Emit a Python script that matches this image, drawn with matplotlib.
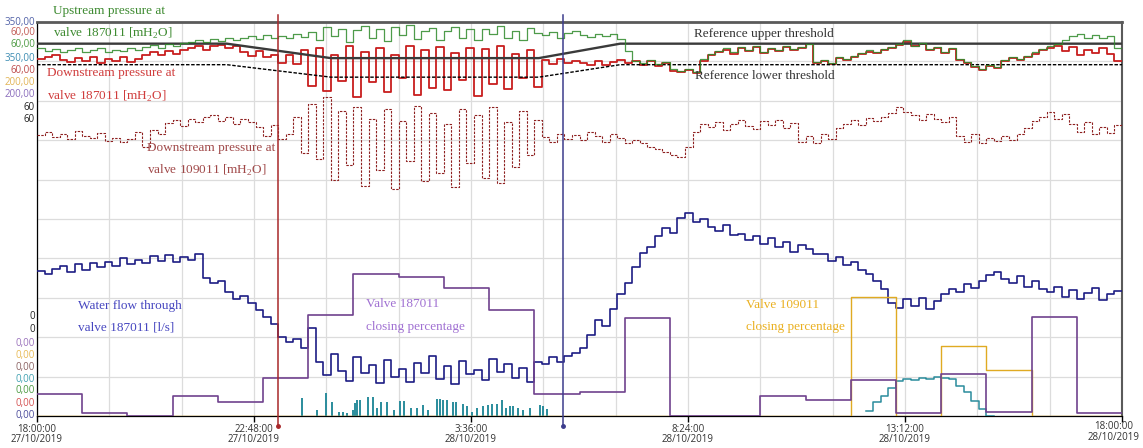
import numpy as np
import matplotlib
matplotlib.use("Agg")
import matplotlib.pyplot as plt
import matplotlib.transforms as mtransforms

# ---------------- data (time in hours after 18:00 27/10/2019) ----------------
STEP_H = 1 / 6  # 10-minute samples

upstream_187011 = [  # mH2O
    56.0, 55.6, 55.9, 55.4, 55.8, 56.1, 55.5, 55.7, 56.0, 55.4, 55.8, 55.6, 56.0, 55.7,
    56.2, 56.5, 56.1, 56.6, 56.3, 56.8,
    57.0, 57.3, 56.9, 57.4, 57.1, 57.5, 57.2,
    57.6, 57.9, 57.4, 58.0, 57.6, 57.8, 57.5, 58.1, 57.7,
    58.5, 57.2, 59.3, 57.8, 59.0, 57.0, 58.8, 59.4, 57.5, 58.9, 57.1, 59.2, 58.0, 59.5, 57.4,
    58.7, 59.1, 57.3, 58.6, 59.3, 57.6, 58.9, 57.2, 59.0, 58.2, 59.4, 57.5, 58.6, 57.3, 59.1, 58.4,
    58.0, 58.5, 57.6, 58.3, 58.7, 58.0, 57.7, 58.2, 57.9, 58.1,
    57.4, 55.6, 54.0,
    53.8, 54.2, 53.6, 53.9, 52.8, 52.5, 52.9, 52.4, 54.4, 55.2,
    55.6, 56.0, 55.4, 56.2, 55.8, 56.3, 55.5, 56.0, 55.7, 56.4,
    55.9, 56.2, 56.7, 53.9, 54.2, 53.8, 54.6, 54.4, 54.8, 55.3,
    55.7, 55.4, 55.9, 56.2, 56.6, 57.2, 56.4, 56.8, 55.9, 56.2,
    55.5, 56.0, 54.4, 53.9, 53.3, 52.8, 53.5, 53.1, 54.2, 54.6,
    54.3, 54.8, 55.4, 55.9, 56.3, 56.7,
    57.3, 57.8, 58.2, 57.6, 58.0, 57.5, 57.9, 56.0,
]

downstream_187011 = [  # mH2O
    54.3, 54.6, 55.0,
    54.2, 53.9, 54.5, 54.0, 54.6, 53.8, 54.3, 54.1, 54.6, 53.9, 54.4,
    54.9, 55.4, 55.0, 55.6, 55.2, 55.7,
    56.0, 56.4, 55.8, 56.3, 56.5, 56.1, 56.4,
    55.5, 54.8, 55.6, 54.6,
    55.0, 53.8, 54.9, 53.6,
    55.8, 50.2, 56.0, 49.5, 54.9, 51.0, 56.3, 48.6, 55.5, 50.8, 56.1, 49.3, 55.0, 51.5, 56.4, 48.9,
    55.7, 50.0, 56.2, 49.6, 55.3, 51.2, 56.0, 48.8, 55.9, 50.5, 56.3, 49.8, 55.1, 51.4, 55.8, 50.1,
    54.2, 53.6, 54.4, 53.8, 54.0, 53.8, 53.4, 54.0, 53.5, 53.9, 54.2, 53.7, 54.0,
    53.4, 54.0, 53.3, 53.7, 52.6, 52.4, 52.7, 52.3, 54.1, 55.0,
    55.5, 55.8, 55.2, 56.1, 55.6, 56.2, 55.3, 55.9, 55.6, 56.2,
    55.7, 56.1, 56.6, 53.7, 54.0, 53.6, 54.5, 54.2, 54.7, 55.2,
    55.5, 55.3, 55.8, 56.0, 56.5, 57.0, 56.3, 56.6, 55.8, 56.0,
    55.3, 55.9, 54.2, 53.7, 53.2, 52.7, 53.3, 53.0, 54.0, 54.5,
    54.2, 54.6, 55.2, 55.8, 56.1, 56.4,
    55.6, 56.2, 55.0, 55.8, 55.3, 56.0, 55.2, 54.1,
]

downstream_109011 = [  # mH2O
    42.8, 43.3, 42.5, 43.0, 42.2, 43.4, 42.7, 42.4, 43.1,
    41.9, 42.4, 41.7, 42.2,
    43.2, 40.9, 43.6, 42.9,
    44.6, 45.0, 44.2, 45.3, 44.8, 45.5,
    45.8, 44.9, 45.6, 44.5, 45.2, 44.7,
    44.0, 42.6, 44.3, 42.2, 43.0,
    45.5, 40.0, 47.5, 39.2, 48.6,
    36.0, 46.5, 38.2, 47.0, 35.1, 45.3, 37.4, 46.8, 34.6, 44.9, 38.8, 47.2, 35.8, 46.1,
    37.0, 44.5, 34.9, 46.7, 38.5, 45.8, 36.3, 47.1, 35.5, 44.8, 37.9, 46.4, 39.8, 45.0,
    42.5, 41.8, 43.0, 42.2, 42.8, 42.0, 43.3, 42.6, 41.7, 42.9, 42.3, 41.5, 42.0,
    41.6, 41.0, 40.6, 40.2, 39.8, 39.5,
    41.0, 43.2, 44.5,
    44.0, 44.8, 43.6, 44.5, 45.0, 44.2, 43.7, 44.9, 44.3, 45.1, 43.9, 44.6,
    41.8, 42.6, 41.5, 42.9, 42.2,
    43.8, 44.5, 45.0, 44.3, 45.4, 44.9, 45.6, 46.2, 47.0, 46.3,
    45.8, 45.0, 46.0, 45.3, 44.7, 45.5,
    42.6, 41.8, 42.9, 41.5, 42.3, 41.9, 42.7, 42.1, 43.0,
    43.8, 44.9, 45.6, 46.3, 45.2, 46.0,
    44.5, 43.2, 44.8, 42.9, 44.0, 43.1, 44.3,
]

flow_187011 = [  # l/s
    129, 126, 131,
    133, 128, 135, 130, 136, 132,
    137, 133, 140, 135, 139, 136, 142,
    138, 143, 137, 141, 139, 144,
    123, 118, 120,
    110, 104, 107, 100,
    94, 88, 82,
    70, 66, 68,
    60, 78,
    48, 36, 55, 40, 31, 52, 38, 45, 29, 50, 35, 42, 30, 47, 38,
    53, 33, 44, 28, 49, 37, 41, 32, 51, 39, 46, 34, 43, 30, 48,
    46, 52, 48, 53,
    56, 60,
    72, 85, 80, 95,
    108, 118, 132, 145, 150,
    160, 167, 163,
    176, 180, 172, 175,
    168, 164, 170, 161,
    162, 156, 160, 153, 158,
    150, 155, 146, 152, 148, 144,
    144, 138, 141, 134, 137, 130, 126,
    120, 113,
    100, 96, 104,
    98, 105, 95, 102,
    108, 113, 110, 117, 114, 120,
    125, 128,
    122, 118, 124, 115, 120, 113,
    110, 115, 106, 112, 104, 109, 114, 103, 108, 111,
]

valve_187011 = [11.2, 1.5, 0, 10.2, 7.1, 19.3, 51.3, 72.1, 70.6, 65.0, 53.8, 11.2,
                12.2, 49.7, 0, 0, 10.2, 8.1, 18.3, 1.5, 21.3, 2.0, 50.3, 1.5]   # % per hour
valve_109011 = [0, 0, 0, 0, 0, 0, 0, 0, 0, 0, 0, 0,
                0, 0, 0, 0, 0, 0, 60.4, 0, 35.5, 23.4, 0, 0]                    # % per hour

flow_109011_hump_start = 18 + 20 / 60
flow_109011_hump = [4, 12, 18, 25, 31, 33, 32, 34, 33, 35, 34, 33, 27, 21, 13, 6, 0]
flow_109011_spike_h = [5.86, 6.19, 6.39, 6.53, 6.68, 6.77, 6.86, 6.99, 7.04, 7.08, 7.15, 7.32,
                       7.43, 7.52, 7.61, 7.74, 7.90, 8.03, 8.12, 8.27, 8.41, 8.54, 8.65, 8.85,
                       8.92, 8.98, 9.07, 9.20, 9.27, 9.42, 9.51, 9.62, 9.73, 9.87, 9.98, 10.07,
                       10.18, 10.29, 10.38, 10.46, 10.53, 10.64, 10.75, 10.91, 11.13, 11.19, 11.28]
flow_109011_spike_v = [16.0, 5.3, 20.4, 12.4, 3.6, 3.6, 3.0, 5.3, 11.5, 14.2, 14.2, 16.9,
                       16.9, 7.1, 12.4, 12.4, 5.3, 13.3, 13.3, 7.1, 7.1, 9.8, 5.3, 15.0,
                       15.0, 14.2, 14.2, 12.4, 12.4, 10.7, 8.9, 3.6, 7.1, 8.9, 9.8, 10.7,
                       10.7, 14.2, 7.1, 8.9, 8.9, 7.1, 5.3, 7.1, 9.8, 8.9, 6.2]

threshold_h = [0, 4.2, 6.5, 11.1, 12.9, 24]
threshold_upper = [56.7, 56.7, 54.5, 54.5, 56.7, 56.7]
threshold_lower = [53.5, 53.5, 51.6, 51.6, 53.5, 53.5]

cursor_h = [5.33, 11.64]
cursor_colors = ["#a8282a", "#3c3c8c"]

tick_h = [0, 4.8, 9.6, 14.4, 19.2, 24]
tick_labels = ["18:00:00\n27/10/2019", "22:48:00\n27/10/2019", "3:36:00\n28/10/2019",
               "8:24:00\n28/10/2019", "13:12:00\n28/10/2019", "18:00:00\n28/10/2019"]

left_top_labels = ["350,00", "60,00", "60,00", "350,00", "60,00", "200,00", "200,00", "60", "60"]
left_top_colors = ["#5262a8", "#c25a55", "#4c9a42", "#3d8db3", "#bd4a4a", "#e2b455", "#8a6cbc", "#222222", "#222222"]
left_bottom_labels = ["0", "0", "0,00", "0,00", "0,00", "0,00", "0,00", "0,00", "0,00"]
left_bottom_colors = ["#222222", "#222222", "#9a72bc", "#e8ba55", "#8c6464", "#42a2b2", "#4c9a42", "#d45252", "#4c4c9c"]

# ---------------- figure ----------------
W, H = 1143, 448
plt.rcParams["mathtext.fontset"] = "custom"
plt.rcParams["mathtext.rm"] = "Liberation Serif"
fig = plt.figure(figsize=(W / 100, H / 100), dpi=100)
fig.patch.set_facecolor("white")
ax = fig.add_axes([37 / W, (H - 416) / H, (1122 - 37) / W, (416 - 22) / H])
ax.set_xlim(0, 24)
ax.set_ylim(0, 60)
ax.set_axisbelow(True)
ax.set_yticks(np.arange(0, 60.1, 6))
ax.tick_params(axis="y", length=0, labelleft=False)
ax.set_xticks(np.arange(0, 24.01, 1.6), minor=True)
ax.set_xticks(tick_h)
ax.set_xticklabels(tick_labels[:-1] + [""], fontfamily="Open Sans", fontsize=7,
                   color="#333333", linespacing=0.95)
ax.tick_params(axis="x", which="major", length=4, width=1, color="black", pad=1.5)
ax.tick_params(axis="x", which="minor", length=0)
ax.grid(True, which="both", color="#dcdcdc", lw=0.9)
ax.spines["top"].set_color("#5a5a5a")
ax.spines["top"].set_linewidth(2)
ax.spines["right"].set_color("#5a5a5a")
ax.spines["right"].set_linewidth(1.5)
ax.spines["left"].set_linewidth(0.9)
ax.spines["bottom"].set_linewidth(0.9)

fig.text(1114 / W, 1 - 432 / H, tick_labels[-1], ha="center", va="center",
         fontfamily="Open Sans", fontsize=7, color="#333333", linespacing=0.95)

t10 = np.arange(len(upstream_187011) + 1) * STEP_H
th = np.arange(25)


def sv(v):
    return np.append(v, v[-1])


# pressures (0-60 mH2O)
ax.step(t10, sv(downstream_109011), where="post", color="#8e2020", lw=0.8,
        ls=(0, (2.2, 1.2)), zorder=3)
ax.step(t10, sv(downstream_187011), where="post", color="#c81e1e", lw=1.3, zorder=3)
ax.plot(threshold_h, threshold_upper, color="#3a3a3a", lw=1.7, zorder=4)
ax.plot(threshold_h, threshold_lower, color="black", lw=1.0, ls=(0, (2.5, 1.2)), zorder=4)
ax.step(t10, sv(upstream_187011), where="post", color="#2f8a2a", lw=0.9, alpha=0.85, zorder=5)

# flows (0-350 l/s)
axf = ax.twinx()
axf.set_ylim(0, 350)
axf.set_yticks([])
for s in axf.spines.values():
    s.set_visible(False)
axf.step(t10, sv(flow_187011), where="post", color="#1c1c84", lw=1.2, zorder=3)
hump_t = flow_109011_hump_start + np.arange(len(flow_109011_hump) + 1) * STEP_H
axf.step(hump_t, sv(flow_109011_hump), where="post", color="#2a8c9c", lw=1.1, zorder=3)
axf.vlines(flow_109011_spike_h, 0, flow_109011_spike_v, color="#2a8c9c", lw=1.4, zorder=3)

# valves (0-200 %)
axv = ax.twinx()
axv.set_ylim(0, 200)
axv.set_yticks([])
for s in axv.spines.values():
    s.set_visible(False)
axv.step(th, sv(valve_187011), where="post", color="#70428e", lw=1.2, zorder=3)
axv.step(th, sv(valve_109011), where="post", color="#e0aa22", lw=1.0, zorder=2)

# cursors
trans = mtransforms.blended_transform_factory(axv.transData, axv.transAxes)
for ch, cc in zip(cursor_h, cursor_colors):
    axv.plot([ch, ch], [-0.025, 1.018], color=cc, lw=1.1, transform=trans, clip_on=False, zorder=6)
    axv.plot([ch], [-0.025], marker="o", ms=2.5, color=cc, transform=trans, clip_on=False, zorder=6)

# left stacked scale labels
top_y = [22, 33, 45, 58, 70, 82, 95, 107, 119]
bot_y = [316, 329, 343, 355, 367, 379, 391, 403, 415]
for yy, lab, col in zip(top_y, left_top_labels, left_top_colors):
    fig.text(35 / W, 1 - yy / H, lab, ha="right", va="center", fontfamily="Open Sans",
             fontsize=7, color=col)
for yy, lab, col in zip(bot_y, left_bottom_labels, left_bottom_colors):
    fig.text(35 / W, 1 - yy / H, lab, ha="right", va="center", fontfamily="Open Sans",
             fontsize=7, color=col)

# annotations
notes = [
    (53, 11, "Upstream pressure at", "#3d8a30"),
    (53, 33, r"valve 187011 [mH$_2$O]", "#3d8a30"),
    (47, 73, "Downstream pressure at", "#d03c3c"),
    (47, 96, r"valve 187011 [mH$_2$O]", "#d03c3c"),
    (147, 148, "Downstream pressure at", "#a04848"),
    (147, 170, r"valve 109011 [mH$_2$O]", "#a04848"),
    (694, 34, "Reference upper threshold", "#333333"),
    (695, 76, "Reference lower threshold", "#333333"),
    (78, 306, "Water flow through", "#4646c0"),
    (78, 328, "valve 187011 [l/s]", "#4646c0"),
    (366, 304, "Valve 187011", "#a070d2"),
    (366, 327, "closing percentage", "#a070d2"),
    (746, 305, "Valve 109011", "#eab020"),
    (746, 327, "closing percentage", "#eab020"),
]
for x, y, s, c in notes:
    fig.text(x / W, 1 - y / H, s, ha="left", va="center", fontfamily="Liberation Serif",
             fontsize=9.5, color=c, zorder=10)

fig.savefig("out.png", dpi=100, facecolor="white")
